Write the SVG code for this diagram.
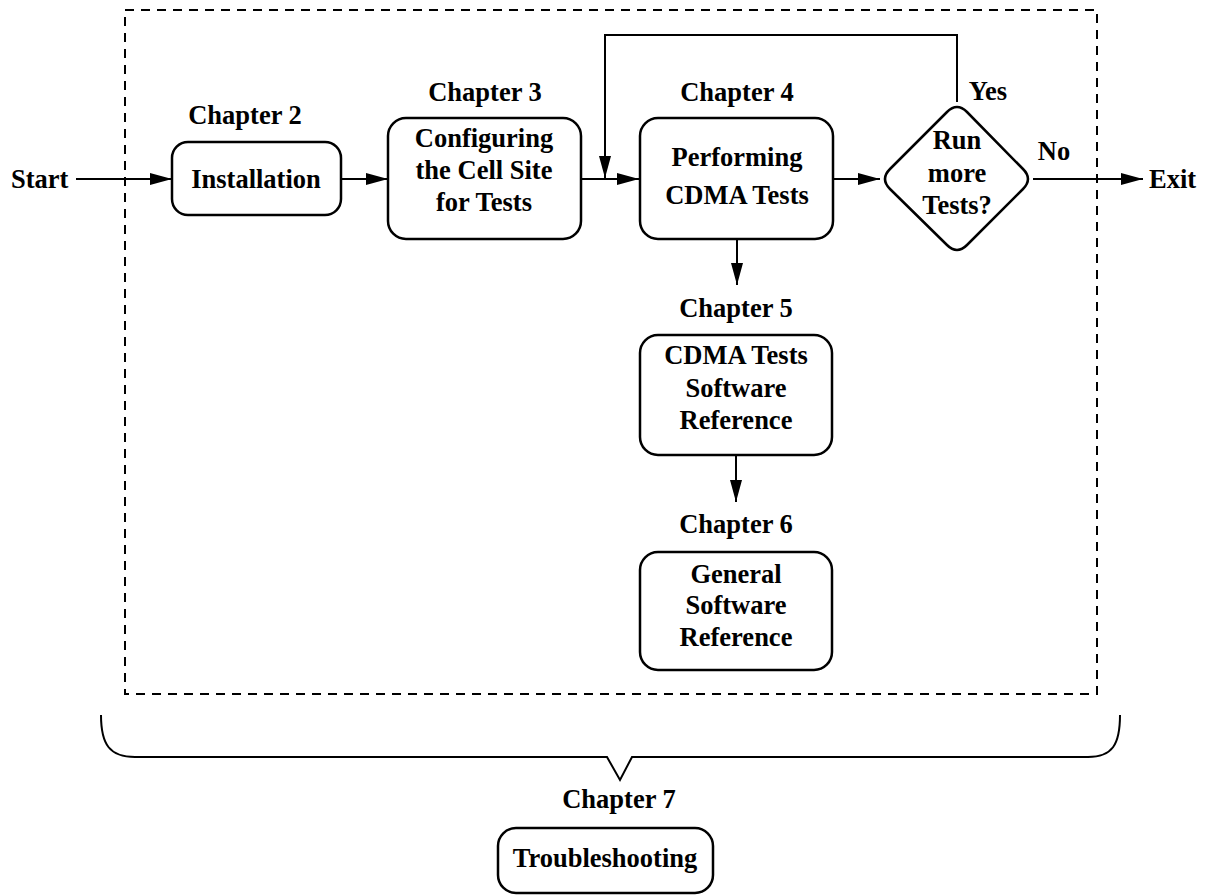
<svg xmlns="http://www.w3.org/2000/svg" width="1209" height="895" viewBox="0 0 1209 895">
<style>
text{font-family:"Liberation Serif","Times New Roman",serif;font-weight:bold;font-size:26.5px;fill:#000}
.c{text-anchor:middle}
.box{fill:#fff;stroke:#000;stroke-width:2.5}
.ln{fill:none;stroke:#000;stroke-width:2}
.dash{fill:none;stroke:#000;stroke-width:2;stroke-dasharray:9 7}
</style>
<defs>
<marker id="ah" markerWidth="22" markerHeight="12" refX="22" refY="6" orient="auto" markerUnits="userSpaceOnUse">
<path d="M0,0 L22,6 L0,12 Z" fill="#000"/>
</marker>
</defs>
<rect width="1209" height="895" fill="#fff"/>
<rect id="boundary" class="dash" x="125" y="10" width="972" height="684"/>
<g id="connectors">
<line class="ln" x1="76" y1="179" x2="172" y2="179" marker-end="url(#ah)"/>
<line class="ln" x1="341" y1="179" x2="388" y2="179" marker-end="url(#ah)"/>
<line class="ln" x1="581" y1="179" x2="639" y2="179" marker-end="url(#ah)"/>
<line class="ln" x1="833" y1="179" x2="880" y2="179" marker-end="url(#ah)"/>
<line class="ln" x1="1033" y1="179" x2="1143" y2="179" marker-end="url(#ah)"/>
<polyline class="ln" points="957,102 957,35 605,35 605,178" marker-end="url(#ah)"/>
<line class="ln" x1="737" y1="239" x2="737" y2="285" marker-end="url(#ah)"/>
<line class="ln" x1="736" y1="455" x2="736" y2="502" marker-end="url(#ah)"/>
<text x="988" y="100" class="c">Yes</text>
<text x="1054" y="160" class="c">No</text>
</g>
<g id="start"><text x="11" y="188">Start</text></g>
<g id="exit"><text x="1149" y="188">Exit</text></g>
<g id="ch2">
<text x="245" y="124" class="c">Chapter 2</text>
<rect class="box" x="172" y="142" width="169" height="73" rx="16"/>
<text x="256" y="188" class="c">Installation</text>
</g>
<g id="ch3">
<text x="485" y="101" class="c">Chapter 3</text>
<rect class="box" x="388" y="118" width="193" height="121" rx="18"/>
<text x="484" y="147" class="c">Configuring</text>
<text x="484" y="179" class="c">the Cell Site</text>
<text x="484" y="211" class="c">for Tests</text>
</g>
<g id="ch4">
<text x="737" y="101" class="c">Chapter 4</text>
<rect class="box" x="640" y="118" width="193" height="121" rx="18"/>
<text x="737" y="166" class="c">Performing</text>
<text x="737" y="204" class="c">CDMA Tests</text>
</g>
<g id="decision">
<path class="box" d="M947,112 Q957,102 967,112 L1023,169 Q1033,179 1023,189 L967,245 Q957,255 947,245 L890,189 Q880,179 890,169 Z"/>
<text x="957" y="149" class="c">Run</text>
<text x="957" y="182" class="c">more</text>
<text x="957" y="214" class="c">Tests?</text>
</g>
<g id="ch5">
<text x="736" y="317" class="c">Chapter 5</text>
<rect class="box" x="640" y="335" width="192" height="120" rx="18"/>
<text x="736" y="364" class="c">CDMA Tests</text>
<text x="736" y="397" class="c">Software</text>
<text x="736" y="429" class="c">Reference</text>
</g>
<g id="ch6">
<text x="736" y="533" class="c">Chapter 6</text>
<rect class="box" x="640" y="552" width="192" height="118" rx="18"/>
<text x="736" y="583" class="c">General</text>
<text x="736" y="614" class="c">Software</text>
<text x="736" y="646" class="c">Reference</text>
</g>
<g id="brace">
<path class="ln" stroke-width="2.5" d="M101,715 C101,745 110,757 135,757 L607,757 L620,780 L632,757 L1088,757 C1112,757 1120,745 1120,715"/>
</g>
<g id="ch7">
<text x="619" y="808" class="c">Chapter 7</text>
<rect class="box" x="498" y="828" width="215" height="65" rx="18"/>
<text x="605" y="867" class="c">Troubleshooting</text>
</g>
</svg>
